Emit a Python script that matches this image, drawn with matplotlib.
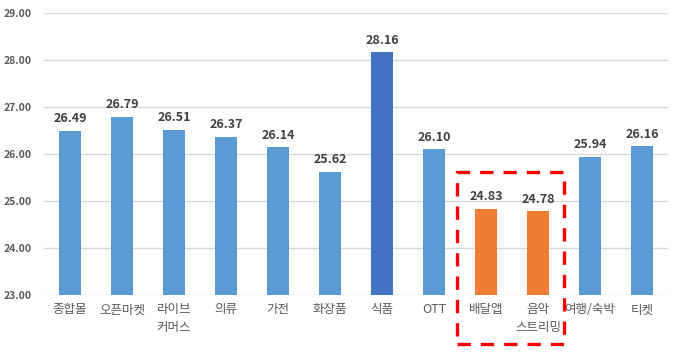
import matplotlib
matplotlib.use('Agg')
import matplotlib.pyplot as plt
from matplotlib.patches import Rectangle

plt.rcParams['font.family'] = ['Noto Sans CJK KR', 'DejaVu Sans']

categories = ['종합몰', '오픈마켓', '라이브\n커머스', '의류', '가전', '화장품', '식품',
              'OTT', '배달앱', '음악\n스트리밍', '여행/숙박', '티켓']
values = [26.49, 26.79, 26.51, 26.37, 26.14, 25.62, 28.16, 26.10, 24.83, 24.78, 25.94, 26.16]
yticks = [23, 24, 25, 26, 27, 28, 29]

light = '#5B9BD5'
dark = '#4472C4'
orange = '#ED7D31'
colors = [light] * 6 + [dark, light, orange, orange, light, light]

fig = plt.figure(figsize=(6.79, 3.52), dpi=100)
ax = fig.add_axes([0.0648, 0.162, 0.919, 0.801])

x = list(range(len(categories)))
bars = ax.bar(x, values, width=0.41, color=colors, zorder=3)

for xi, v in zip(x, values):
    ax.annotate('%.2f' % v, (xi, v), xytext=(0, 4), textcoords='offset points',
                ha='center', va='bottom', fontsize=9, fontweight='bold', color='#404040')

ax.set_xlim(-0.5, len(categories) - 0.5)
ax.set_ylim(23, 29)
ax.set_yticks(yticks)
ax.set_yticklabels(['%.2f' % t for t in yticks])
ax.set_xticks(x)
ax.set_xticklabels(categories)
ax.grid(axis='y', color='#D9D9D9', linewidth=1, zorder=0)
for s in ax.spines.values():
    s.set_visible(False)
ax.tick_params(axis='both', length=0)
ax.tick_params(axis='y', pad=9, labelsize=7.5, labelcolor='#595959')
ax.tick_params(axis='x', pad=6, labelsize=9, labelcolor='#595959')
for lbl in ax.get_yticklabels():
    lbl.set_fontweight('bold')
for lbl in ax.get_xticklabels():
    lbl.set_linespacing(1.5)

# highlight box around the orange bars
box = Rectangle((7.44, 21.96), 2.06, 3.66, fill=False, edgecolor='#FF0000',
                linewidth=2.4, linestyle=(0, (4, 3)), clip_on=False, zorder=5)
ax.add_patch(box)

fig.savefig('out.png', dpi=100)
